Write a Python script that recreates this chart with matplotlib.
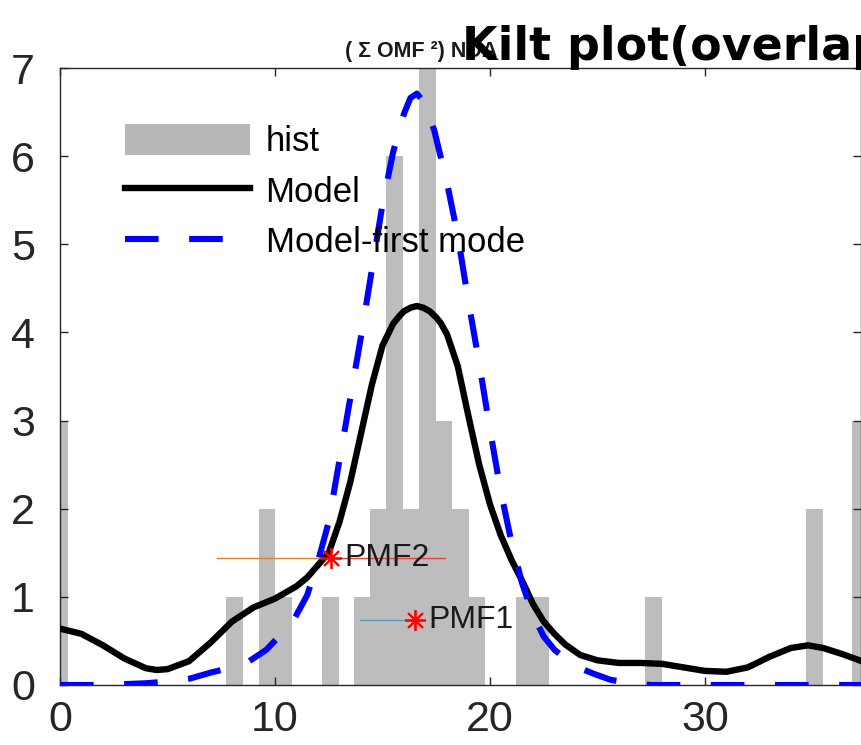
import matplotlib
matplotlib.use("Agg")
import matplotlib.pyplot as plt
from matplotlib.patches import Patch
from matplotlib.lines import Line2D

# ---------------- data ----------------
hist_centers = [0.0, 8.12, 9.63, 10.40, 12.60, 14.05, 14.80, 15.56, 16.33, 17.09,
                17.86, 18.62, 19.38, 21.58, 22.34, 27.60, 35.09, 37.22]
hist_counts = [3, 1, 2, 1, 1, 1, 2, 6, 2, 7, 3, 2, 1, 1, 1, 1, 2, 3]

model_x = [0, 1, 2, 3, 4, 4.5, 5, 6, 7, 8, 9, 10, 11, 11.5, 12, 12.5, 13, 13.5,
           14, 14.5, 15, 15.5, 15.8, 16.0, 16.3, 16.6, 16.9, 17.2, 17.5, 17.7, 18.0,
           18.5, 19.0, 19.5, 20.0, 20.5, 21.0, 21.5, 22.0, 22.5, 23.0, 23.5, 24.2,
           25, 26, 27, 28, 29, 30, 31, 32, 33, 34, 34.8, 35.5, 36.4, 37.3]
model_y = [0.64, 0.58, 0.45, 0.30, 0.19, 0.17, 0.18, 0.27, 0.48, 0.72, 0.88, 0.98,
           1.12, 1.22, 1.36, 1.50, 1.85, 2.30, 2.85, 3.40, 3.85, 4.10, 4.19, 4.24,
           4.28, 4.30, 4.28, 4.24, 4.17, 4.11, 3.98, 3.62, 3.05, 2.50, 2.05, 1.70,
           1.42, 1.18, 0.92, 0.72, 0.58, 0.46, 0.34, 0.28, 0.25, 0.25, 0.24, 0.20,
           0.16, 0.15, 0.20, 0.32, 0.42, 0.45, 0.42, 0.35, 0.27]

first_x = [0, 2, 4, 5, 6, 7, 8.0, 8.8, 9.6, 10.3, 10.9, 11.5, 12.0, 12.5, 13.0,
           13.5, 14.0, 14.5, 15.0, 15.5, 16.0, 16.3, 16.6, 16.9, 17.4, 18.0, 18.5,
           19.0, 19.5, 20.0, 20.5, 21.0, 21.5, 22.0, 22.5, 23.0, 23.6, 24.2, 24.8,
           25.6, 26.5, 27.5, 37.3]
first_y = [0.0, 0.0, 0.02, 0.04, 0.07, 0.14, 0.20, 0.27, 0.40, 0.58, 0.75, 1.02,
           1.40, 1.85, 2.55, 3.25, 3.95, 4.70, 5.45, 6.05, 6.48, 6.66, 6.71, 6.62,
           6.30, 5.70, 5.10, 4.35, 3.65, 2.90, 2.20, 1.62, 1.15, 0.80, 0.55, 0.40,
           0.28, 0.19, 0.13, 0.06, 0.02, 0.0, 0.0]

pmf_names = ["PMF1", "PMF2"]
pmf_x = [16.5, 12.6]
pmf_y = [0.74, 1.44]
pmf_lo = [13.95, 7.3]
pmf_hi = [16.5, 17.9]
pmf_left_colors = ["#5a9cb5", "#d9822b"]
pmf_right_colors = ["#5a9cb5", "#e8413c"]

x_ticks = [0, 10, 20, 30]
y_ticks = [0, 1, 2, 3, 4, 5, 6, 7]

title_small = "( Σ OMF ²) NDA"
title_big = "Kilt plot(overlapped)"

# ---------------- figure ----------------
plt.rcParams['font.family'] = ['Liberation Sans', 'DejaVu Sans']
W, H = 862, 745
fig = plt.figure(figsize=(W / 100, H / 100), dpi=100)
ax = fig.add_axes([60 / W, 60 / H, 801 / W, 617 / H])

ax.bar(hist_centers, hist_counts, width=0.78, color="#bdbdbd", edgecolor="none",
       zorder=1)
ax.plot(model_x, model_y, color="black", lw=4.6, zorder=3,
        solid_capstyle="round", solid_joinstyle="round")
ax.plot(first_x, first_y, color="#0000ff", lw=4.4, zorder=4,
        dashes=(5.5, 5.0), dash_capstyle="butt", dash_joinstyle="round")

for name, px, py, lo, hi, cl, cr in zip(pmf_names, pmf_x, pmf_y, pmf_lo, pmf_hi,
                                        pmf_left_colors, pmf_right_colors):
    ax.plot([lo, px], [py, py], color=cl, lw=1.0, zorder=5)
    if hi > px:
        ax.plot([px, hi], [py, py], color=cr, lw=1.0, zorder=5)
    ax.plot([px], [py], marker=(8, 2, 0), color="red", markersize=15,
            markeredgewidth=1.3, zorder=6)
    ax.annotate(name, (px, py), xytext=(10, 0), textcoords="offset points",
                ha="left", va="center", fontsize=23, color="#1a1a1a", zorder=7)

ax.set_xlim(0, 37.26)
ax.set_ylim(0, 7)
ax.set_xticks(x_ticks)
ax.set_yticks(y_ticks)
ax.tick_params(direction="in", length=6, width=1.0, top=True, right=True,
               labelsize=31, colors="#262626")
ax.tick_params(axis="x", pad=11)
ax.tick_params(axis="y", pad=18)
for s in ax.spines.values():
    s.set_color("#262626")
    s.set_linewidth(1.0)

handles = [Patch(facecolor="#b8b8b8", edgecolor="none"),
           Line2D([], [], color="black", lw=4.6),
           Line2D([], [], color="#0000ff", lw=4.4, dashes=(5.5, 5.0),
                  dash_capstyle="butt")]
labels = ["hist", "Model", "Model-first mode"]
ax.legend(handles, labels, loc="upper left", bbox_to_anchor=(0.081, 0.91),
          frameon=False, fontsize=25, handlelength=3.6, handleheight=1.0,
          handletextpad=0.45, labelspacing=0.47, borderpad=0, borderaxespad=0)

fig.text(345 / W, 1 - 57 / H, title_small, fontsize=15.5, fontweight="bold",
         ha="left", va="baseline", color="#1a1a1a")
fig.text(462 / W, 1 - 60 / H, title_big, fontsize=33, fontweight="bold",
         family="DejaVu Sans", ha="left", va="baseline", color="#000000")

fig.savefig("out.png", dpi=100)
